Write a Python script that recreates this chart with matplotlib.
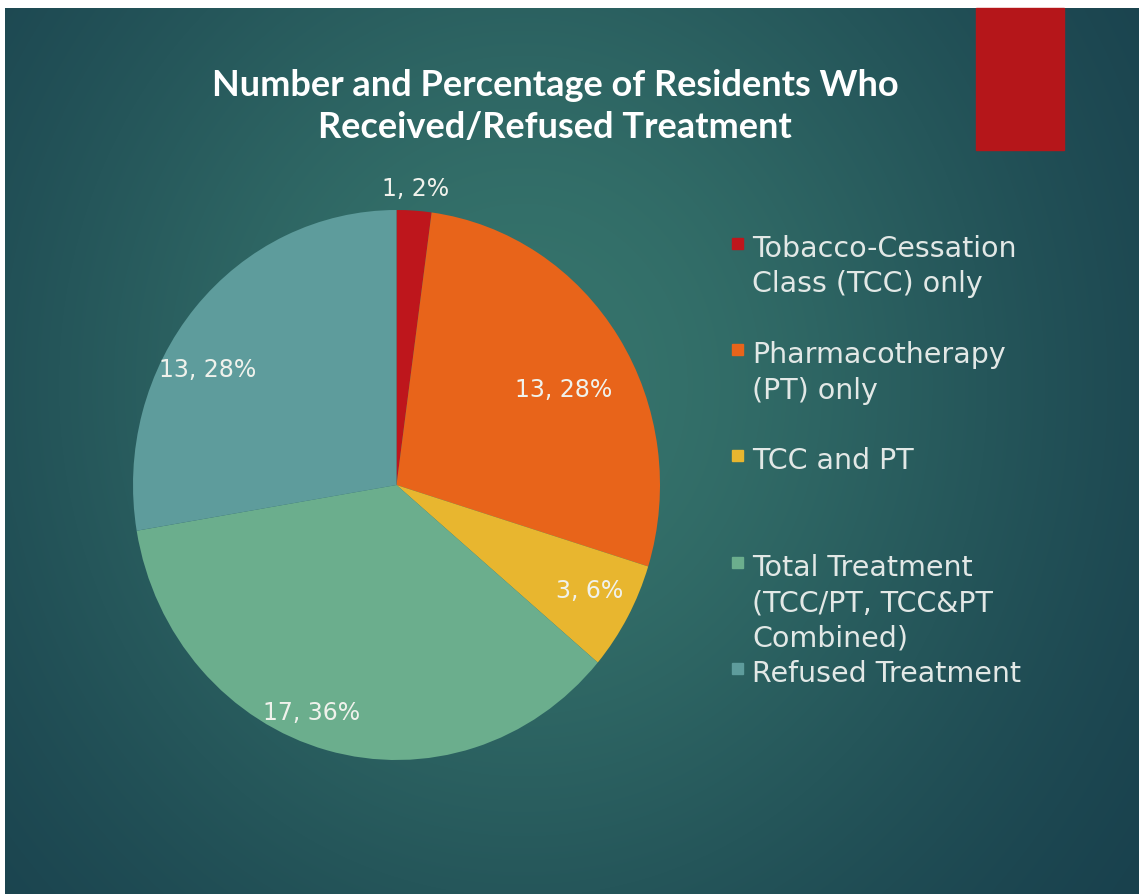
import numpy as np
import matplotlib.pyplot as plt
from matplotlib.patches import Rectangle

# slice data (clockwise from 12 o'clock)
categories = [
    "Tobacco-Cessation\nClass (TCC) only",
    "Pharmacotherapy\n(PT) only",
    "TCC and PT",
    "Total Treatment\n(TCC/PT, TCC&PT\nCombined)",
    "Refused Treatment",
]
counts = [1, 13, 3, 17, 13]
percents = [2, 28, 6, 36, 28]
colors = ["#BE161C", "#E8641A", "#E8B62F", "#6BAE8D", "#5E9C9C"]

W, H = 1139, 894
fig = plt.figure(figsize=(W / 100, H / 100), dpi=100)
fig.patch.set_facecolor("white")

# backdrop axes in pixel units
bg = fig.add_axes([0, 0, 1, 1])
bg.set_xlim(0, W)
bg.set_ylim(H, 0)
bg.axis("off")

yy, xx = np.mgrid[0:H, 0:W]
glow = np.exp(-((xx - 520) / 560.0) ** 2 - ((yy - 380) / 620.0) ** 2)
dark = np.array([20, 56, 72]) / 255.0
light = np.array([54, 116, 108]) / 255.0
img = dark + (light - dark) * glow[..., None]
bg.imshow(img, extent=(5, W, H, 8), aspect="auto", zorder=0)

# red accent block
bg.add_patch(Rectangle((976, 8), 88, 142, color="#B5161A", zorder=1))

bg.text(555, 85, "Number and Percentage of Residents Who", color="white",
        fontsize=26, fontweight="bold", ha="center", va="center",
        family=["Lato", "DejaVu Sans"])
bg.text(555, 128, "Received/Refused Treatment", color="white",
        fontsize=26, fontweight="bold", ha="center", va="center",
        family=["Lato", "DejaVu Sans"])

# legend drawn by hand: fixed pitch per entry
for i, (lab, col) in enumerate(zip(categories, colors)):
    base = 257 + 106.2 * i
    bg.add_patch(Rectangle((732, base - 19), 11, 11, color=col, zorder=2))
    for j, line in enumerate(lab.split("\n")):
        bg.text(752, base + 35.5 * j, line, color="#E2E8E6", fontsize=20.5,
                ha="left", va="baseline", family="DejaVu Sans")

# pie, stretched to fill its box
pie_ax = fig.add_axes([133 / W, (H - 760) / H, 527 / W, 550 / H])
wedges, _ = pie_ax.pie(counts, colors=colors, startangle=90, counterclock=False,
                       wedgeprops=dict(linewidth=0))
pie_ax.set_aspect("auto")
pie_ax.set_xlim(-1, 1)
pie_ax.set_ylim(-1, 1)
pie_ax.axis("off")

label_dist = [1.08, 0.72, 0.83, 0.89, 0.83]
label_turn = [0, -4, 1, -6, 10]
for w, n, p, d, t in zip(wedges, counts, percents, label_dist, label_turn):
    ang = np.deg2rad((w.theta1 + w.theta2) / 2 + t)
    pie_ax.text(d * np.cos(ang), d * np.sin(ang), f"{n}, {p}%", color="#F0F2EC",
                fontsize=17, ha="center", va="center", clip_on=False,
                family="DejaVu Sans")

fig.savefig("out.png", dpi=100, facecolor=fig.get_facecolor())
